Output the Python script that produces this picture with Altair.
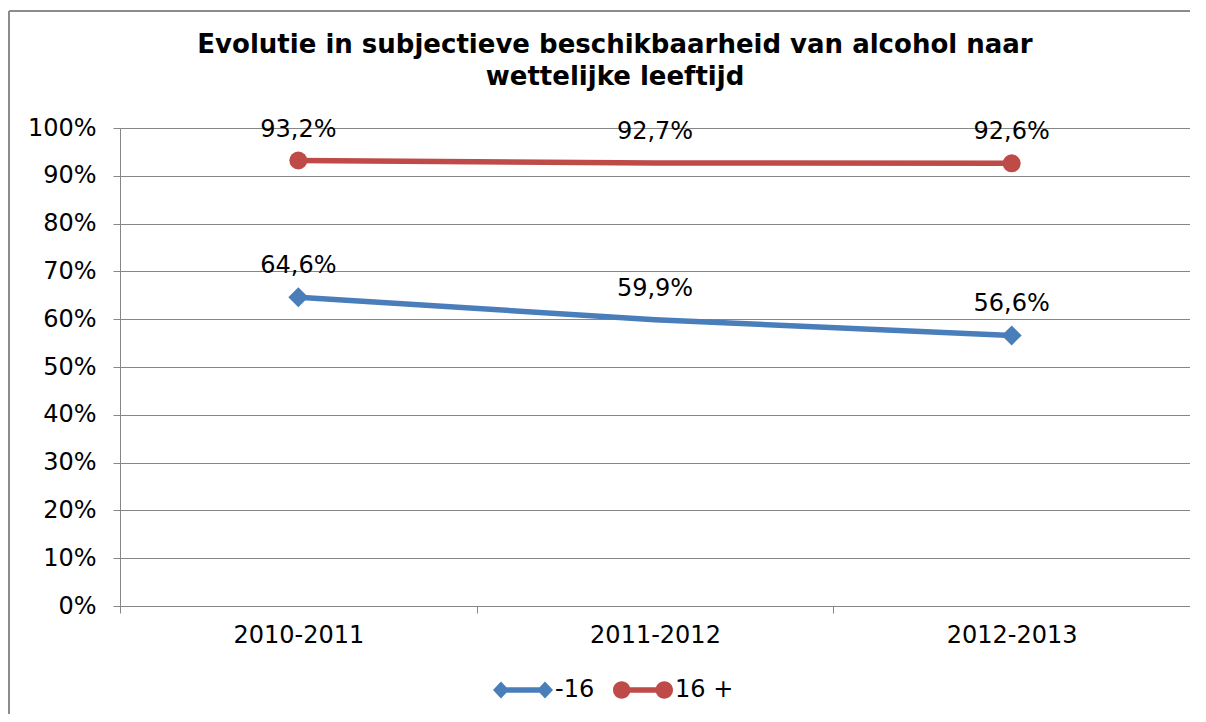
import altair as alt
import pandas as pd

# ---- data ----
periods = ["2010-2011", "2011-2012", "2012-2013"]
series = ["-16", "16 +"]
under16 = [0.646, 0.599, 0.566]
over16 = [0.932, 0.927, 0.926]
marker_shown = [True, False, True]
y_ticks = [0.0, 0.1, 0.2, 0.3, 0.4, 0.5, 0.6, 0.7, 0.8, 0.9, 1.0]

rows = []
for s, vals in zip(series, [under16, over16]):
    for p, v, m in zip(periods, vals, marker_shown):
        rows.append({
            "period": p,
            "series": s,
            "value": v,
            "label": f"{v * 100:.1f}".replace(".", ",") + "%",
            "marker": m,
        })
df = pd.DataFrame(rows)

W, H = 1070, 478
FONT = "DejaVu Sans"
GRID = "#868686"
colors = ["#4A7EBB", "#BE4B48"]

# legend symbols: line with a marker on each end (all sub-paths drawn clockwise)
diamond_path = ("M-1,0L-0.733,-0.28L-0.467,0L-0.733,0.28Z "
                "M-0.74,-0.09L0.74,-0.09L0.74,0.09L-0.74,0.09Z "
                "M0.467,0L0.733,-0.28L1,0L0.733,0.28Z")
circle_path = ("M-1,0A0.29,0.29 0 0,1 -0.42,0A0.29,0.29 0 0,1 -1,0Z "
               "M-0.72,-0.09L0.72,-0.09L0.72,0.09L-0.72,0.09Z "
               "M0.42,0A0.29,0.29 0 0,1 1,0A0.29,0.29 0 0,1 0.42,0Z")

x_enc = alt.X(
    "period:N", sort=periods,
    scale=alt.Scale(type="band", paddingInner=0, paddingOuter=0),
    axis=alt.Axis(title=None, tickBand="extent", grid=False, labelAngle=0,
                  labelFontSize=24, labelFont=FONT, labelColor="black",
                  labelPadding=10, tickSize=7, tickColor=GRID, domainColor=GRID,
                  tickWidth=1, domainWidth=1),
)
y_enc = alt.Y(
    "value:Q",
    scale=alt.Scale(domain=[0, 1], nice=False),
    axis=alt.Axis(title=None, values=y_ticks, format=".0%", grid=True,
                  gridColor=GRID, gridWidth=1, tickColor=GRID, tickSize=7,
                  domainColor=GRID, labelFontSize=24, labelFont=FONT,
                  labelColor="black", labelPadding=17),
)
color_scale = alt.Scale(domain=series, range=colors)
shape_scale = alt.Scale(domain=series, range=[diamond_path, circle_path])

legend = alt.Legend(title=None, orient="none", legendX=373, legendY=532,
                    direction="horizontal", labelFontSize=24, labelFont=FONT,
                    labelColor="black", symbolSize=3600, symbolOpacity=1,
                    symbolStrokeWidth=0, labelOffset=2, columnPadding=18)

color_enc = alt.Color("series:N", scale=color_scale, legend=legend)

base = alt.Chart(df)
frame_df = pd.DataFrame({"k": [0]})

top_border = alt.Chart(frame_df).mark_rule(color="#8c8c8c", strokeWidth=2).encode(
    x=alt.value(-111), x2=alt.value(W + 16), y=alt.value(-117),
)
left_border = alt.Chart(frame_df).mark_rule(color="#8c8c8c", strokeWidth=2).encode(
    x=alt.value(-111), y=alt.value(-117), y2=alt.value(H + 108),
)

lines = base.mark_line(strokeWidth=5.5).encode(
    x=x_enc, y=y_enc, color=color_enc, detail="series:N",
)

diamonds = base.transform_filter(
    (alt.datum.series == "-16") & alt.datum.marker
).mark_point(shape="diamond", filled=True, size=400, opacity=1).encode(
    x=x_enc, y=y_enc, color=color_enc,
)

circles = base.transform_filter(
    (alt.datum.series == "16 +") & alt.datum.marker
).mark_point(shape="circle", filled=True, size=324, opacity=1).encode(
    x=x_enc, y=y_enc, color=color_enc,
)

texts = base.mark_text(dy=-31, fontSize=24, font=FONT, color="black",
                       baseline="middle").encode(
    x=x_enc, y=y_enc, text="label:N",
)

# legend-only layer: no rows reach the marks, the legend comes from the scale domains
legend_layer = base.transform_filter("false").mark_point(filled=True).encode(
    x=x_enc, y=y_enc, color=color_enc,
    shape=alt.Shape("series:N", scale=shape_scale, legend=legend),
)

chart = alt.layer(top_border, left_border, lines, diamonds, circles, texts,
                  legend_layer).properties(
    width=W, height=H,
    title=alt.Title(
        text=["Evolutie in subjectieve beschikbaarheid van alcohol naar",
              "wettelijke leeftijd"],
        fontSize=26, font=FONT, fontWeight="bold", anchor="middle",
        dx=-40, offset=-80, lineHeight=32, color="black",
    ),
    autosize=alt.AutoSizeParams(type="none"),
    padding={"left": 112, "top": 120, "right": 0, "bottom": 108},
).configure_view(stroke="transparent").configure(background="white")

chart.save("out.html", embed_options={"renderer": "svg", "actions": False})
